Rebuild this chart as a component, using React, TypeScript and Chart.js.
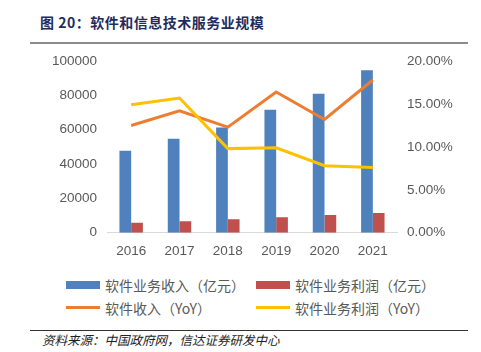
import React, { useEffect, useRef } from "react";
import { Chart, registerables } from "chart.js";

Chart.register(...registerables);

const years = ["2016", "2017", "2018", "2019", "2020", "2021"];
const revenue = [47700, 54700, 61300, 71700, 81000, 94600];
const profit = [5800, 6600, 7800, 8950, 10300, 11450];
const revenueYoY = [12.5, 14.2, 12.3, 16.4, 13.2, 17.8];
const profitYoY = [14.9, 15.7, 9.8, 9.9, 7.8, 7.6];

const legendItems = [
  { label: "软件业务收入（亿元）", color: "#4F81BD", kind: "box" },
  { label: "软件业务利润（亿元）", color: "#C0504D", kind: "box" },
  { label: "软件收入（YoY）", color: "#ED7D31", kind: "line" },
  { label: "软件业务利润（YoY）", color: "#FFC000", kind: "line" },
];

export default function App() {
  const ref = useRef<HTMLCanvasElement | null>(null);

  useEffect(() => {
    if (!ref.current) return;
    const tickFont = { family: "'Liberation Sans', Arial, sans-serif", size: 13.5 };
    const chart = new Chart(ref.current, {
      type: "bar",
      data: {
        labels: years,
        datasets: [
          {
            type: "line",
            label: "软件业务利润（YoY）",
            data: profitYoY,
            borderColor: "#FFC000",
            backgroundColor: "#FFC000",
            borderWidth: 3,
            pointRadius: 0,
            yAxisID: "y1",
            order: 0,
          } as any,
          {
            type: "line",
            label: "软件收入（YoY）",
            data: revenueYoY,
            borderColor: "#ED7D31",
            backgroundColor: "#ED7D31",
            borderWidth: 3,
            pointRadius: 0,
            yAxisID: "y1",
            order: 1,
          } as any,
          {
            type: "bar",
            label: "软件业务收入（亿元）",
            data: revenue,
            backgroundColor: "#4F81BD",
            yAxisID: "y",
            order: 2,
            categoryPercentage: 0.485,
            barPercentage: 1,
          },
          {
            type: "bar",
            label: "软件业务利润（亿元）",
            data: profit,
            backgroundColor: "#C0504D",
            yAxisID: "y",
            order: 3,
            categoryPercentage: 0.485,
            barPercentage: 1,
          },
        ],
      },
      options: {
        responsive: false,
        animation: false,
        layout: { padding: 0 },
        plugins: { legend: { display: false }, tooltip: { enabled: false }, title: { display: false } },
        scales: {
          x: {
            grid: { display: false, drawTicks: false },
            border: { display: true, color: "#D9D9D9", width: 1 },
            ticks: { color: "#595959", font: tickFont, padding: 10 },
            afterFit: (s: any) => {
              s.height = 32.3;
            },
          },
          y: {
            position: "left",
            min: 0,
            max: 100000,
            grid: { display: false, drawTicks: false },
            border: { display: false },
            ticks: {
              stepSize: 20000,
              color: "#595959",
              font: tickFont,
              padding: 10,
              callback: (v: any) => String(v),
            },
            afterFit: (s: any) => {
              s.width = 107;
            },
          },
          y1: {
            position: "right",
            min: 0,
            max: 20,
            grid: { display: false, drawTicks: false },
            border: { display: false },
            ticks: {
              stepSize: 5,
              color: "#595959",
              font: tickFont,
              padding: 10,
              callback: (v: any) => Number(v).toFixed(2) + "%",
            },
            afterFit: (s: any) => {
              s.width = 84;
            },
          },
        },
      },
    });
    return () => chart.destroy();
  }, []);

  return (
    <div
      style={{
        position: "fixed",
        left: 0,
        top: 0,
        width: 481,
        height: 352,
        background: "#fff",
        overflow: "hidden",
        fontFamily: "'Noto Sans CJK SC', 'Noto Sans', sans-serif",
      }}
    >
      <div
        style={{
          position: "absolute",
          left: 40,
          top: 12,
          fontSize: 14,
          fontWeight: "bold",
          color: "#1F2D5C",
          lineHeight: "20px",
          whiteSpace: "nowrap",
          letterSpacing: 0.5,
        }}
      >
        图 20：软件和信息技术服务业规模
      </div>
      <div style={{ position: "absolute", left: 30, top: 42, width: 438, height: 2, background: "#8C8C8C" }} />
      <canvas ref={ref} width={481} height={222} style={{ position: "absolute", left: 0, top: 43 }} />
      {legendItems.map((it, i) => {
        const col = i % 2;
        const row = Math.floor(i / 2);
        const left = col === 0 ? 66 : 256;
        const cy = row === 0 ? 285 : 307.5;
        return (
          <div key={i} style={{ position: "absolute", left, top: cy - 11, height: 22, display: "flex", alignItems: "center", whiteSpace: "nowrap" }}>
            <div
              style={{
                width: 34,
                height: it.kind === "box" ? 8 : 3,
                background: it.color,
                marginRight: 5,
              }}
            />
            <span style={{ fontSize: 14, color: "#595959", lineHeight: "22px" }}>{it.label}</span>
          </div>
        );
      })}
      <div style={{ position: "absolute", left: 30, top: 330, width: 438, height: 1, background: "#333" }} />
      <div
        style={{
          position: "absolute",
          left: 42,
          top: 331,
          fontSize: 12.5,
          fontStyle: "italic",
          color: "#222",
          lineHeight: "18px",
          whiteSpace: "nowrap",
        }}
      >
        资料来源：中国政府网，信达证券研发中心
      </div>
    </div>
  );
}
